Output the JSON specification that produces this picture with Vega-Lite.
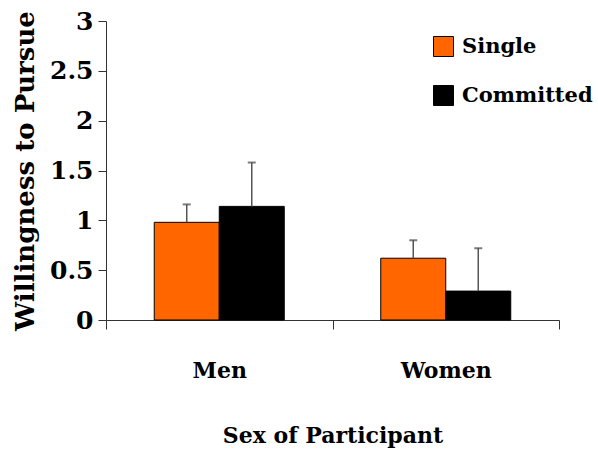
{
  "$schema": "https://vega.github.io/schema/vega-lite/v6.json",
  "width": 453,
  "height": 299,
  "autosize": {"type": "none"},
  "padding": {"left": 106, "top": 21, "right": 39, "bottom": 133},
  "background": "white",
  "config": {"view": {"stroke": null}, "font": "DejaVu Serif"},
  "data": {
    "values": [
      {"sex": "Men", "status": "Single", "value": 0.98, "upper": 1.16},
      {"sex": "Men", "status": "Committed", "value": 1.14, "upper": 1.58},
      {"sex": "Women", "status": "Single", "value": 0.62, "upper": 0.80},
      {"sex": "Women", "status": "Committed", "value": 0.29, "upper": 0.72}
    ]
  },
  "encoding": {
    "x": {
      "field": "sex",
      "type": "nominal",
      "sort": ["Men", "Women"],
      "scale": {"paddingInner": 0, "paddingOuter": 0},
      "title": "Sex of Participant",
      "axis": {
        "labelAngle": 0,
        "tickBand": "extent",
        "tickSize": 9,
        "tickColor": "#333",
        "domainColor": "#333",
        "labelFont": "DejaVu Serif",
        "labelFontSize": 22,
        "labelFontWeight": "bold",
        "labelColor": "black",
        "labelPadding": 31,
        "titleFont": "DejaVu Serif",
        "titleFontSize": 22,
        "titleFontWeight": "bold",
        "titleColor": "black",
        "titlePadding": 44
      }
    },
    "xOffset": {
      "field": "status",
      "type": "nominal",
      "sort": ["Single", "Committed"],
      "scale": {"paddingOuter": 0.742, "paddingInner": 0}
    }
  },
  "layer": [
    {
      "mark": {"type": "bar", "stroke": "black", "strokeWidth": 1},
      "encoding": {
        "y": {
          "field": "value",
          "type": "quantitative",
          "scale": {"domain": [0, 3]},
          "title": "Willingness to Pursue",
          "axis": {
            "values": [0, 0.5, 1, 1.5, 2, 2.5, 3],
            "format": "~g",
            "grid": false,
            "tickSize": 8,
            "tickColor": "#333",
            "domainColor": "#333",
            "labelFont": "DejaVu Serif",
            "labelFontSize": 25,
            "labelFontWeight": "bold",
            "labelColor": "black",
            "labelPadding": 5,
            "titleFont": "DejaVu Serif",
            "titleFontSize": 26,
            "titleFontWeight": "bold",
            "titleColor": "black",
            "titlePadding": 11
          }
        },
        "color": {
          "field": "status",
          "type": "nominal",
          "sort": ["Single", "Committed"],
          "scale": {"domain": ["Single", "Committed"], "range": ["#FF6600", "#000000"]},
          "legend": {
            "title": null,
            "orient": "none",
            "legendX": 327,
            "legendY": 15,
            "symbolType": "square",
            "symbolSize": 400,
            "symbolStrokeColor": "black",
            "symbolStrokeWidth": 1,
            "labelFont": "DejaVu Serif",
            "labelFontSize": 21,
            "labelFontWeight": "bold",
            "labelColor": "black",
            "labelOffset": 8,
            "rowPadding": 24
          }
        }
      }
    },
    {
      "mark": {"type": "rule", "color": "#555", "strokeWidth": 1.5},
      "encoding": {
        "y": {"field": "value", "type": "quantitative"},
        "y2": {"field": "upper"}
      }
    },
    {
      "mark": {"type": "tick", "color": "#444", "thickness": 2, "size": 8},
      "encoding": {
        "y": {"field": "upper", "type": "quantitative"}
      }
    }
  ]
}
